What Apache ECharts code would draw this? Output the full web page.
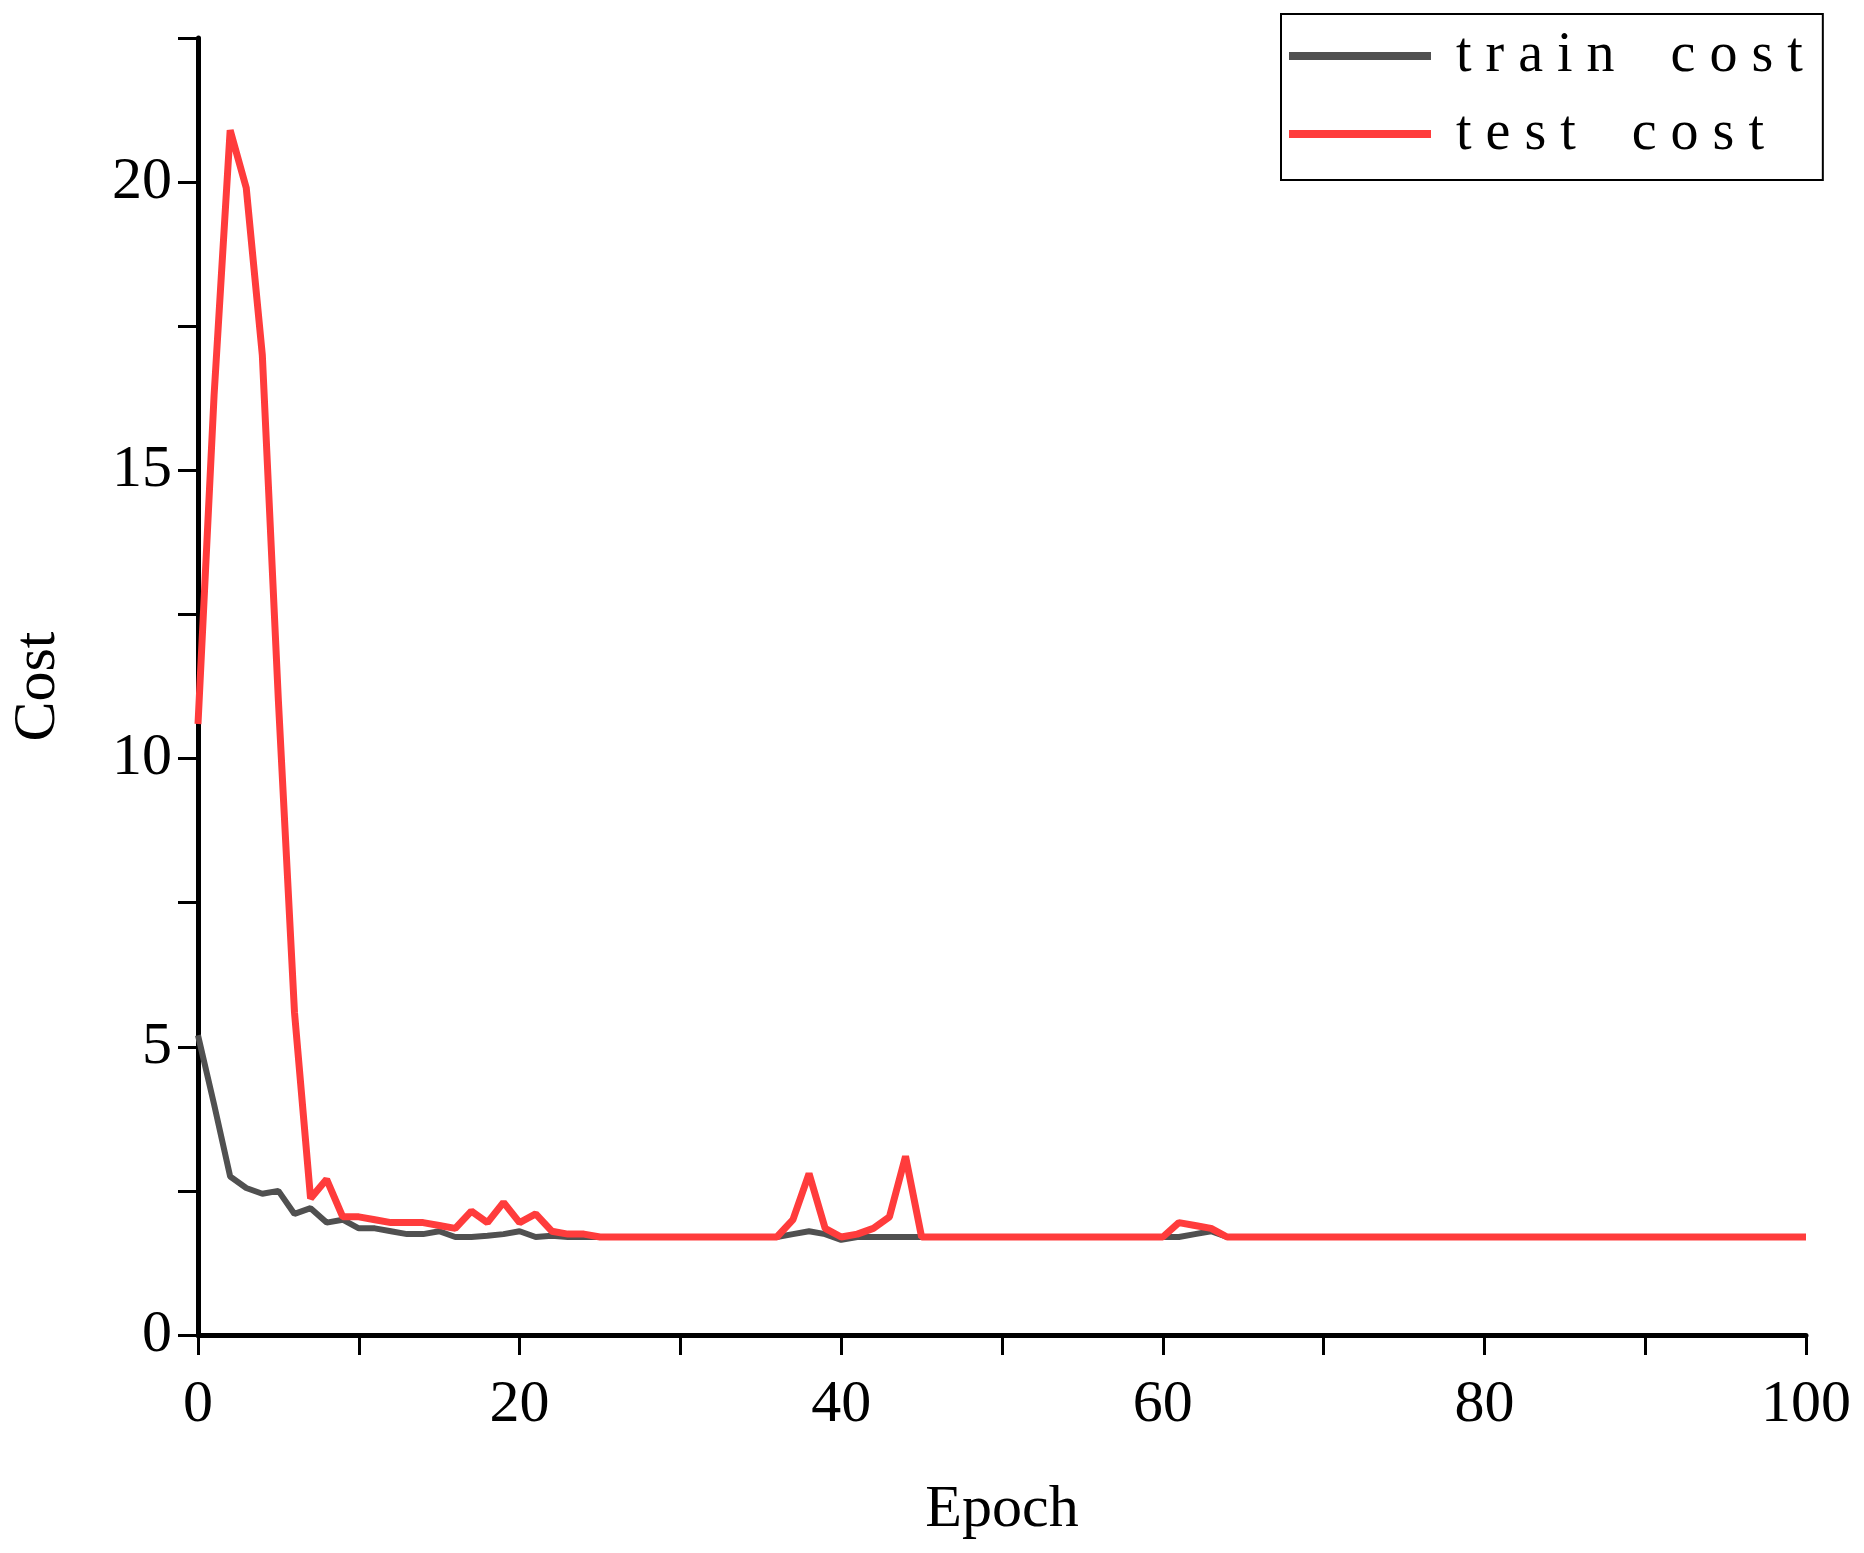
<!DOCTYPE html>
<html>
<head>
<meta charset="utf-8">
<script src="https://cdn.jsdelivr.net/npm/echarts@6/dist/echarts.min.js"></script>
<style>html,body{margin:0;padding:0;background:#fff}#chart{width:1864px;height:1553px}</style>
</head>
<body>
<div id="chart"></div>
<script>
let epochs = [];
for (let i = 0; i <= 100; i++) epochs.push(i);
// train cost, epoch 0..100
let trainCost = [5.2,4.0,2.75,2.55,2.45,2.5,2.1,2.2,1.95,2.0,1.85,1.85,1.8,1.75,1.75,1.8,1.7,1.7,1.72,1.75,
  1.8,1.7,1.72,1.7,1.7,1.7,1.7,1.7,1.7,1.7,1.7,1.7,1.7,1.7,1.7,1.7,1.7,1.75,1.8,1.75,
  1.65,1.7,1.7,1.7,1.7,1.7,1.7,1.7,1.7,1.7,1.7,1.7,1.7,1.7,1.7,1.7,1.7,1.7,1.7,1.7,
  1.7,1.7,1.75,1.8,1.7,1.7,1.7,1.7,1.7,1.7,1.7,1.7,1.7,1.7,1.7,1.7,1.7,1.7,1.7,1.7,
  1.7,1.7,1.7,1.7,1.7,1.7,1.7,1.7,1.7,1.7,1.7,1.7,1.7,1.7,1.7,1.7,1.7,1.7,1.7,1.7,1.7];
// test cost
let testCost = [10.6,16.3,20.9,19.9,17.0,11.0,5.6,2.37,2.7,2.05,2.05,2.0,1.95,1.95,1.95,1.9,1.85,2.15,1.95,2.3,
  1.95,2.1,1.8,1.75,1.75,1.7,1.7,1.7,1.7,1.7,1.7,1.7,1.7,1.7,1.7,1.7,1.7,2.0,2.8,1.85,
  1.7,1.75,1.85,2.05,3.1,1.7,1.7,1.7,1.7,1.7,1.7,1.7,1.7,1.7,1.7,1.7,1.7,1.7,1.7,1.7,
  1.7,1.95,1.9,1.85,1.7,1.7,1.7,1.7,1.7,1.7,1.7,1.7,1.7,1.7,1.7,1.7,1.7,1.7,1.7,1.7,
  1.7,1.7,1.7,1.7,1.7,1.7,1.7,1.7,1.7,1.7,1.7,1.7,1.7,1.7,1.7,1.7,1.7,1.7,1.7,1.7,1.7];

let font = 'Liberation Serif';
let chart = echarts.init(document.getElementById('chart'), null, {renderer: 'canvas'});
chart.setOption({
    animation: false,
    grid: {left: 194, right: 58, top: 38, bottom: 218},
    legend: {
        orient: 'vertical', left: 1281, top: 14, width: 527,
        padding: [14, 20, 18, 8], itemGap: 22,
        borderColor: '#000', borderWidth: 2,
        itemWidth: 142, itemHeight: 8, icon: 'rect',
        textStyle: {fontFamily: font, fontSize: 56, color: '#000', padding: [0, 0, 0, 20]},
        formatter: function (n) { return n.split('').join(' ').replace('  ', '   '); },
        data: ['train cost', 'test cost']
    },
    xAxis: {
        type: 'value', min: 0, max: 100, interval: 10,
        name: 'Epoch', nameLocation: 'middle', nameGap: 145,
        nameTextStyle: {fontFamily: font, fontSize: 60, color: '#000'},
        axisLine: {onZero: false, lineStyle: {color: '#000', width: 5}},
        axisTick: {show: true, inside: false, length: 20, lineStyle: {color: '#000', width: 3}},
        axisLabel: {fontFamily: font, fontSize: 60, color: '#000', margin: 40,
            formatter: v => (v % 20 === 0 ? String(v) : '')},
        splitLine: {show: false}
    },
    yAxis: {
        type: 'value', min: 0, max: 22.5, interval: 2.5,
        name: 'Cost', nameLocation: 'middle', nameGap: 130,
        nameTextStyle: {fontFamily: font, fontSize: 60, color: '#000'},
        axisLine: {show: true, lineStyle: {color: '#000', width: 5}},
        axisTick: {show: true, length: 20, lineStyle: {color: '#000', width: 3}},
        axisLabel: {fontFamily: font, fontSize: 60, color: '#000', margin: 26,
            formatter: v => (v % 5 === 0 ? String(v) : '')},
        splitLine: {show: false}
    },
    series: [
        {name: 'train cost', type: 'line', showSymbol: false, color: '#505050',
         lineStyle: {width: 6}, data: epochs.map((e, i) => [e, trainCost[i]])},
        {name: 'test cost', type: 'line', showSymbol: false, color: '#ff3c3c',
         lineStyle: {width: 7}, data: epochs.map((e, i) => [e, testCost[i]])}
    ]
});
</script>
</body>
</html>
